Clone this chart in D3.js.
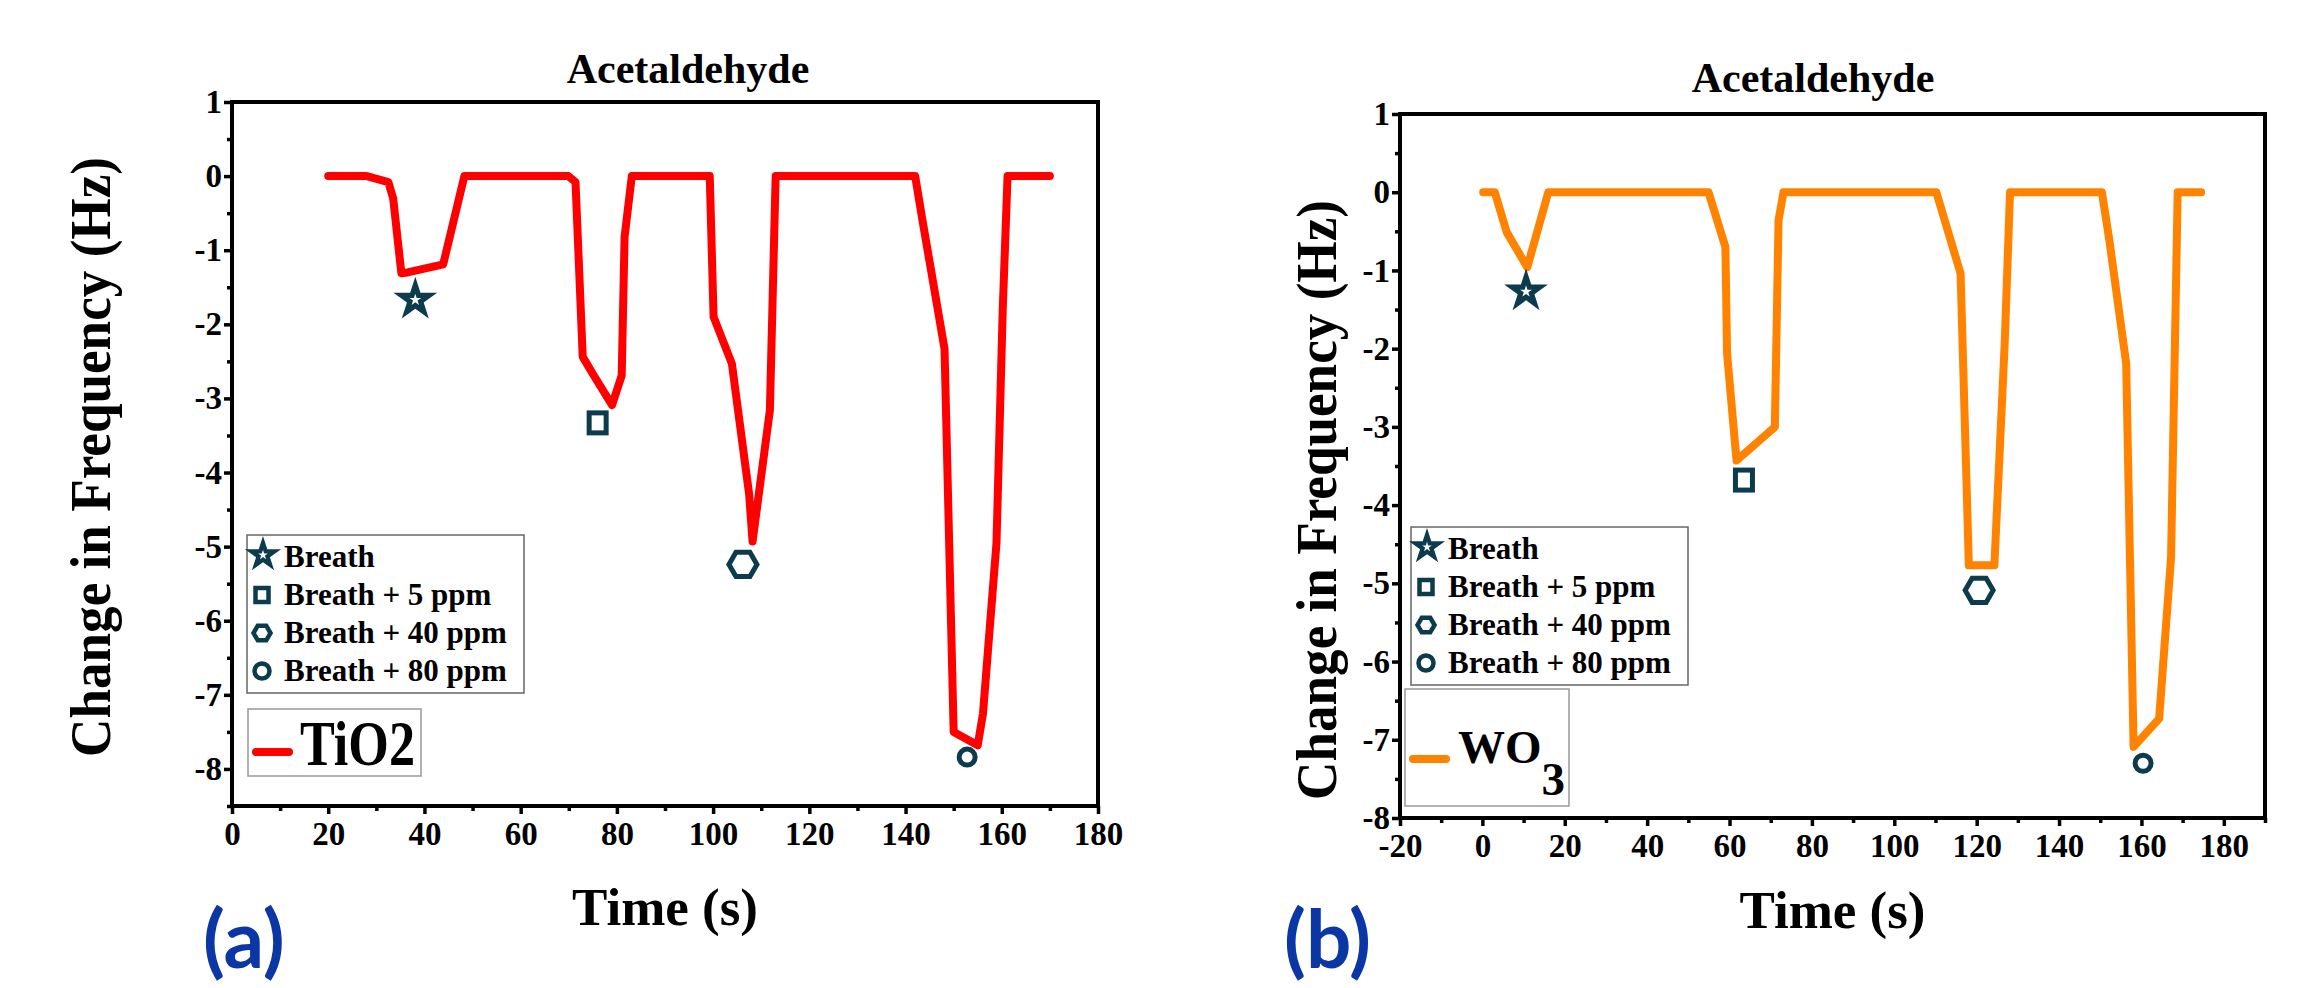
<!DOCTYPE html>
<html>
<head>
<meta charset="utf-8">
<script src="https://cdn.jsdelivr.net/npm/d3@7"></script>
<style>
  html, body { margin: 0; padding: 0; background: #ffffff; }
  svg { display: block; }
</style>
</head>
<body>
<script>
// ---------------- DATA ----------------
const tio2Time  = [20, 28, 32.5, 33.5, 35.2, 36.5, 43.9, 48.3, 69.9, 71.4, 72.9, 75.2, 79.0, 81.0, 81.6, 83.1, 99.3, 100.1, 103.9, 107.5, 108.2, 111.8, 113.0, 142.0, 143.5, 148.1, 150.0, 155.0, 156.1, 158.9, 160.2, 161.2, 170.0];
const tio2Shift = [0, 0, -0.08, -0.30, -1.31, -1.30, -1.19, 0, 0, -0.08, -2.44, -2.69, -3.09, -2.69, -0.82, 0, 0, -1.90, -2.53, -4.30, -4.93, -3.16, 0, 0, -0.59, -2.33, -7.50, -7.68, -7.25, -4.95, -1.80, 0, 0];

const wo3Time  = [0.2, 3.0, 5.9, 10.9, 16.0, 54.9, 59.0, 59.4, 61.7, 71.0, 71.9, 73.1, 110.2, 116.1, 118.1, 124.3, 126.8, 128.1, 150.4, 152.2, 156.3, 158.1, 164.3, 167.2, 168.8, 174.5];
const wo3Shift = [0, 0, -0.51, -0.96, 0, 0, -0.70, -2.06, -3.43, -3.00, -0.36, 0, 0, -1.04, -4.77, -4.77, -1.94, 0, 0, -0.61, -2.19, -7.09, -6.73, -4.66, 0, 0];

const markerLabels = ["Breath", "Breath + 5 ppm", "Breath + 40 ppm", "Breath + 80 ppm"];
const markerShapes = ["star", "square", "hexagon", "circle"];
const tio2MarkerTime  = [38.1, 76.0, 106.2, 152.8];
const tio2MarkerShift = [-1.67, -3.33, -5.24, -7.84];
const wo3MarkerTime   = [10.6, 63.5, 120.6, 160.4];
const wo3MarkerShift  = [-1.27, -3.68, -5.09, -7.30];

const xTicksA = [0, 20, 40, 60, 80, 100, 120, 140, 160, 180];
const xMinorA = [10, 30, 50, 70, 90, 110, 130, 150, 170];
const yTicksA = [1, 0, -1, -2, -3, -4, -5, -6, -7, -8];
const yMinorA = [0.5, -0.5, -1.5, -2.5, -3.5, -4.5, -5.5, -6.5, -7.5, -8.5];

const xTicksB = [-20, 0, 20, 40, 60, 80, 100, 120, 140, 160, 180];
const xMinorB = [-10, 10, 30, 50, 70, 90, 110, 130, 150, 170, 190];
const yTicksB = [1, 0, -1, -2, -3, -4, -5, -6, -7, -8];
const yMinorB = [0.5, -0.5, -1.5, -2.5, -3.5, -4.5, -5.5, -6.5, -7.5];

const titleText = "Acetaldehyde";
const xLabelText = "Time (s)";
const yLabelText = "Change in Frequency (Hz)";

// ---------------- STYLE ----------------
const SERIF = "'Liberation Serif', 'Times New Roman', serif";
const markerColor = "#0b3b4c";

const svg = d3.select("body").append("svg")
  .attr("width", 2303).attr("height", 988)
  .attr("viewBox", "0 0 2303 988");

function hexPath(R) {
  const pts = d3.range(6).map(i => {
    const a = i * Math.PI / 3;
    return [R * Math.cos(a), R * Math.sin(a)];
  });
  return "M" + pts.map(p => p.join(",")).join("L") + "Z";
}

function drawMarker(g, shape, cx, cy, s) {
  const m = g.append("g").attr("transform", `translate(${cx},${cy})`);
  if (shape === "star") {
    const R = s.starR;
    m.append("path").attr("d", d3.symbol(d3.symbolStar, R * R / 0.8908130915292852)())
      .attr("fill", markerColor);
    const r = R * 0.27;
    m.append("path").attr("d", d3.symbol(d3.symbolStar, r * r / 0.8908130915292852)())
      .attr("fill", "#ffffff");
  } else if (shape === "square") {
    m.append("rect").attr("x", -s.sqW / 2).attr("y", -s.sqH / 2)
      .attr("width", s.sqW).attr("height", s.sqH)
      .attr("fill", "#ffffff").attr("stroke", markerColor).attr("stroke-width", s.sw);
  } else if (shape === "hexagon") {
    m.append("path").attr("d", hexPath(s.hexR))
      .attr("fill", "#ffffff").attr("stroke", markerColor).attr("stroke-width", s.sw)
      .attr("stroke-linejoin", "miter");
  } else {
    m.append("circle").attr("r", s.circR)
      .attr("fill", "#ffffff").attr("stroke", markerColor).attr("stroke-width", s.sw);
  }
}

function drawPanel(cfg) {
  const x = d3.scaleLinear().domain(cfg.xDomain).range([cfg.left, cfg.right]);
  const y = d3.scaleLinear().domain(cfg.yDomain).range([cfg.bottom, cfg.top]);
  const g = svg.append("g");

  // minor ticks
  const xMinorAxis = d3.axisBottom(x).tickValues(cfg.xMinor).tickSize(5).tickSizeOuter(0).tickFormat("");
  const yMinorAxis = d3.axisLeft(y).tickValues(cfg.yMinor).tickSize(5).tickSizeOuter(0).tickFormat("");
  const gxm = g.append("g").attr("transform", `translate(0,${cfg.bottom})`).call(xMinorAxis);
  const gym = g.append("g").attr("transform", `translate(${cfg.left},0)`).call(yMinorAxis);

  // major ticks
  const xAxis = d3.axisBottom(x).tickValues(cfg.xTicks).tickSize(8).tickSizeOuter(0).tickPadding(8)
    .tickFormat(d => String(d));
  const yAxis = d3.axisLeft(y).tickValues(cfg.yTicks).tickSize(8).tickSizeOuter(0).tickPadding(2)
    .tickFormat(d => String(d));
  const gx = g.append("g").attr("transform", `translate(0,${cfg.bottom})`).call(xAxis);
  const gy = g.append("g").attr("transform", `translate(${cfg.left},0)`).call(yAxis);

  [gxm, gym, gx, gy].forEach(a => {
    a.select(".domain").remove();
    a.selectAll(".tick line").attr("stroke", "#000").attr("stroke-width", 3.5);
  });
  [gx, gy].forEach(a => {
    a.selectAll(".tick text")
      .attr("fill", "#000")
      .style("font-family", SERIF)
      .style("font-weight", "bold")
      .style("font-size", "33px");
  });

  // frame
  g.append("rect")
    .attr("x", cfg.left).attr("y", cfg.top)
    .attr("width", cfg.right - cfg.left).attr("height", cfg.bottom - cfg.top)
    .attr("fill", "none").attr("stroke", "#000").attr("stroke-width", 4);

  // series line
  const pts = cfg.time.map((t, i) => [t, cfg.shift[i]]);
  g.append("path")
    .datum(pts)
    .attr("d", d3.line().x(d => x(d[0])).y(d => y(d[1])))
    .attr("fill", "none")
    .attr("stroke", cfg.color)
    .attr("stroke-width", 8)
    .attr("stroke-linejoin", "round")
    .attr("stroke-linecap", "round");

  // markers in plot
  const plotMarkerStyle = { starR: 23, sqW: 17, sqH: 20, hexR: 14, circR: 8, sw: 5 };
  cfg.mTime.forEach((t, i) => {
    drawMarker(g, markerShapes[i], x(t), y(cfg.mShift[i]), plotMarkerStyle);
  });

  // title
  g.append("text")
    .attr("x", cfg.titleX).attr("y", cfg.titleY)
    .attr("text-anchor", "middle")
    .style("font-family", SERIF).style("font-weight", "bold").style("font-size", "42px")
    .text(titleText);

  // x label
  g.append("text")
    .attr("x", (cfg.left + cfg.right) / 2).attr("y", cfg.xLabelY)
    .attr("text-anchor", "middle")
    .style("font-family", SERIF).style("font-weight", "bold").style("font-size", "53px")
    .text(xLabelText);

  // y label
  g.append("text")
    .attr("transform", `translate(${cfg.yLabelX},${cfg.yLabelCY}) rotate(-90)`)
    .attr("text-anchor", "middle")
    .attr("textLength", 600).attr("lengthAdjust", "spacingAndGlyphs")
    .style("font-family", SERIF).style("font-weight", "bold").style("font-size", "56px")
    .text(yLabelText);

  // symbol legend
  const lg = g.append("g");
  lg.append("rect")
    .attr("x", cfg.legX).attr("y", cfg.legY)
    .attr("width", 277).attr("height", 158)
    .attr("fill", "#ffffff").attr("stroke", "#666").attr("stroke-width", 1.5);
  const legMarkerStyle = { starR: 19, sqW: 13, sqH: 14, hexR: 8.5, circR: 7.5, sw: 4.5 };
  markerLabels.forEach((lab, i) => {
    const base = cfg.legY + 32 + i * 38;
    drawMarker(lg, markerShapes[i], cfg.legX + (i === 0 ? 16 : 15), base - (i === 0 ? 12 : 10), legMarkerStyle);
    lg.append("text")
      .attr("x", cfg.legX + 37).attr("y", base)
      .style("font-family", SERIF).style("font-weight", "bold").style("font-size", "31px")
      .text(lab);
  });

  // series legend
  const sg = g.append("g");
  sg.append("rect")
    .attr("x", cfg.sLeg.x).attr("y", cfg.sLeg.y)
    .attr("width", cfg.sLeg.w).attr("height", cfg.sLeg.h)
    .attr("fill", "#ffffff").attr("stroke", "#999").attr("stroke-width", 1.5);
  sg.append("line")
    .attr("x1", cfg.sLeg.x + 8).attr("x2", cfg.sLeg.x + 41)
    .attr("y1", cfg.sLeg.lineY).attr("y2", cfg.sLeg.lineY)
    .attr("stroke", cfg.color).attr("stroke-width", 8).attr("stroke-linecap", "round");
  cfg.sLeg.draw(sg);

  // panel letter
  g.append("text")
    .attr("x", cfg.letterX).attr("y", 968)
    .attr("fill", "#0a37a5")
    .style("font-family", "Lato, 'Open Sans', sans-serif").style("font-weight", "bold").style("font-size", "80px")
    .text(cfg.letter);
}

drawPanel({
  xDomain: [0, 180], yDomain: [-8.5, 1],
  left: 232, right: 1098, top: 102, bottom: 806,
  xTicks: xTicksA, xMinor: xMinorA, yTicks: yTicksA, yMinor: yMinorA,
  time: tio2Time, shift: tio2Shift, color: "#ff0000",
  mTime: tio2MarkerTime, mShift: tio2MarkerShift,
  titleX: 688, titleY: 83, xLabelY: 925, yLabelX: 110, yLabelCY: 457,
  legX: 247, legY: 535,
  sLeg: { x: 248, y: 709, w: 173, h: 67, lineY: 752, draw: (sg) => {
    sg.append("text").attr("x", 300).attr("y", 765)
      .attr("textLength", 115).attr("lengthAdjust", "spacingAndGlyphs")
      .style("font-family", SERIF).style("font-weight", "bold").style("font-size", "63px")
      .text("TiO2");
  }},
  letterX: 203, letter: "(a)"
});

drawPanel({
  xDomain: [-20, 190], yDomain: [-8, 1],
  left: 1400, right: 2265, top: 114, bottom: 818,
  xTicks: xTicksB, xMinor: xMinorB, yTicks: yTicksB, yMinor: yMinorB,
  time: wo3Time, shift: wo3Shift, color: "#ff8300",
  mTime: wo3MarkerTime, mShift: wo3MarkerShift,
  titleX: 1813, titleY: 92, xLabelY: 928, yLabelX: 1336, yLabelCY: 500,
  legX: 1411, legY: 527,
  sLeg: { x: 1405, y: 689, w: 164, h: 117, lineY: 759, draw: (sg) => {
    const t = sg.append("text").attr("x", 1458).attr("y", 763)
      .style("font-family", SERIF).style("font-weight", "bold").style("font-size", "47px");
    t.append("tspan").text("WO");
    t.append("tspan").attr("dy", 32).text("3");
  }},
  letterX: 1284, letter: "(b)"
});
</script>
</body>
</html>
